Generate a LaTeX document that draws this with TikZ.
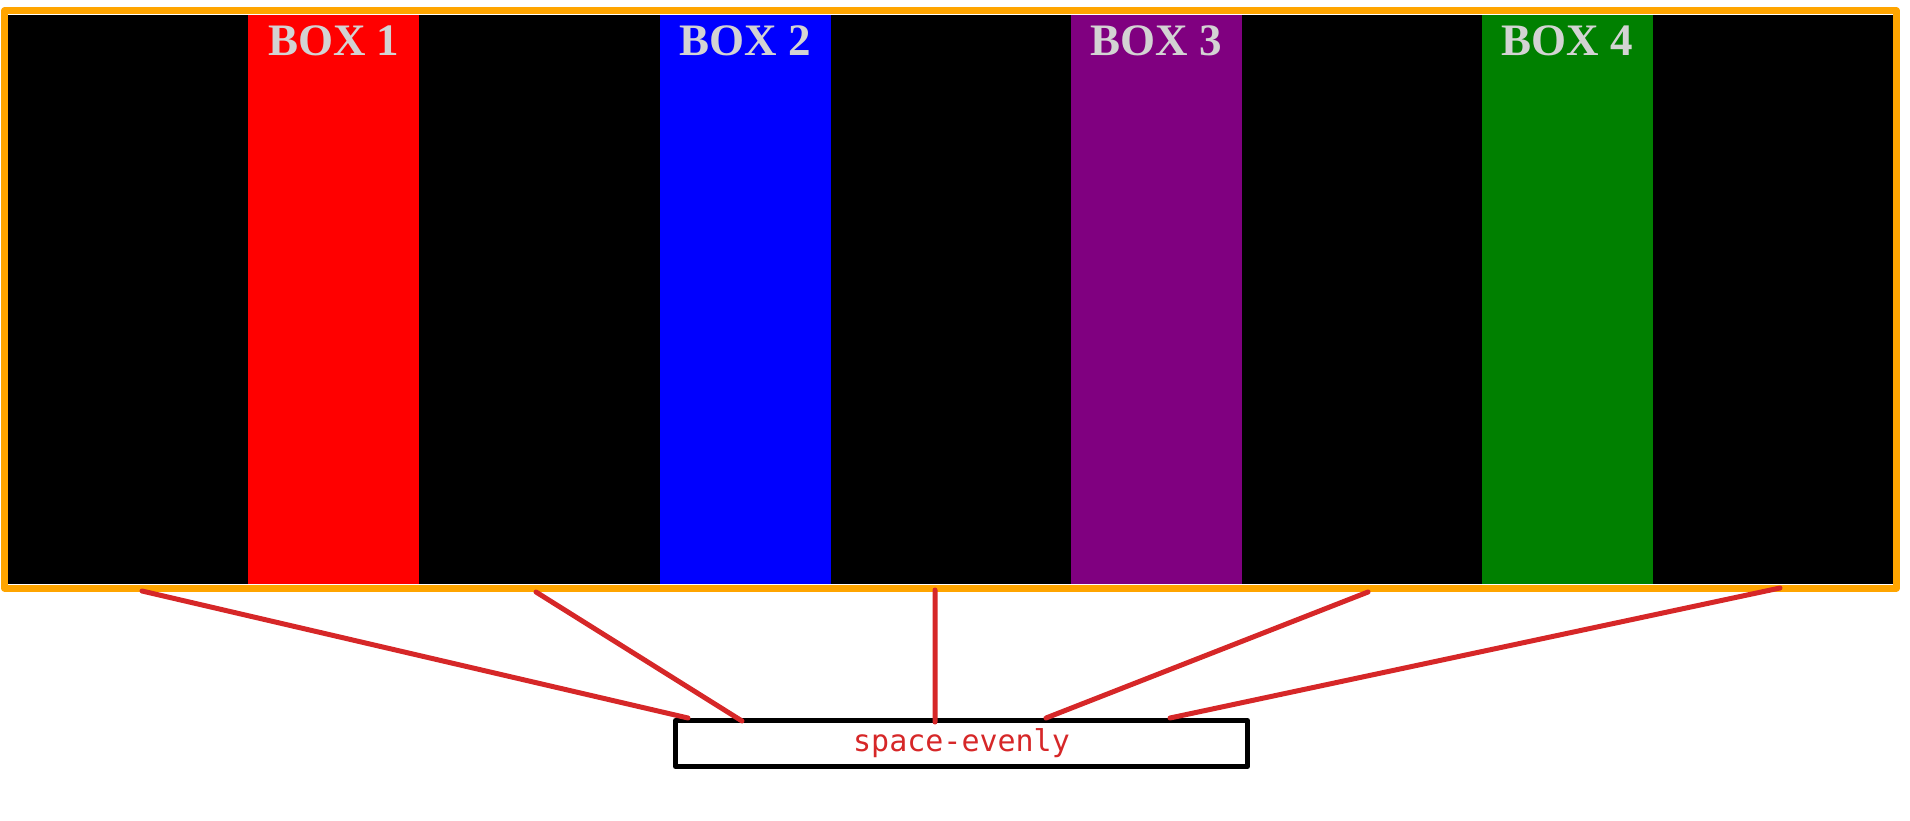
\documentclass[tikz,border=0pt]{standalone}
\usepackage{fontspec}
\setmainfont{Liberation Serif}
\newfontfamily\monofont{DejaVu Sans Mono}
\usetikzlibrary{positioning}
\definecolor{frameorange}{HTML}{FFA500}
\definecolor{boxred}{HTML}{FF0000}
\definecolor{boxblue}{HTML}{0000FF}
\definecolor{boxpurple}{HTML}{800080}
\definecolor{boxgreen}{HTML}{008000}
\definecolor{labelgray}{HTML}{D3D3D3}
\definecolor{linered}{RGB}{214,39,40}
\begin{document}
\begin{tikzpicture}[x=1pt,y=-1pt,line join=round,line cap=round]
			\useasboundingbox (0,0) rectangle (1910,821);
			\fill[black] (8,15) rectangle (1893,584);
			\foreach \i/\c in {1/boxred,2/boxblue,3/boxpurple,4/boxgreen}{
				\fill[\c] ({8+240.25*\i+171*(\i-1)},15) rectangle +(171,569);
				\path ({8+240.25*\i+171*(\i-1)+85.5},56) node[anchor=base,text=labelgray,font=\fontsize{45}{45}\selectfont\bfseries] (box\i) {BOX \i};
			}
			\draw[frameorange,line width=7pt] (4.5,11) rectangle (1896.5,588);
			\node[draw=black,line width=5pt,minimum width=572pt,minimum height=46pt,inner sep=0pt,text=linered,font=\monofont\fontsize{30}{30}\selectfont] (note) at (961.5,743.5) {\raisebox{-3pt}{space-evenly}};
			\coordinate (s1) at (142,591);
			\coordinate (s2) at (536,592);
			\coordinate (s3) at (935,590);
			\coordinate (s4) at (1368,592);
			\coordinate (s5) at (1780,588);
			\coordinate (e1) at (688,718);
			\coordinate (e2) at (742,721);
			\coordinate (e3) at (935,722);
			\coordinate (e4) at (1046,718);
			\coordinate (e5) at (1170,718);
			\draw[linered,line width=5pt] (s1)--(e1) (s2)--(e2) (s3)--(e3) (s4)--(e4) (s5)--(e5);
		\end{tikzpicture}
\end{document}
